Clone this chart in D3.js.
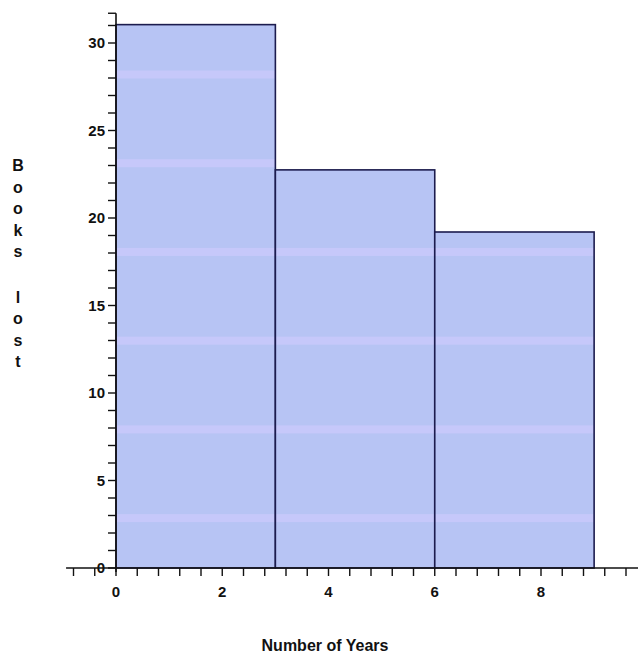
<!DOCTYPE html>
<html>
<head>
<meta charset="utf-8">
<script src="https://cdn.jsdelivr.net/npm/d3@7"></script>
<style>
  html, body { margin: 0; padding: 0; background: #ffffff; }
  svg { display: block; }
</style>
</head>
<body>
<svg id="chart" width="638" height="654"></svg>
<script>
// ---- data ----
const binStarts = [0, 3, 6];
const binEnds = [3, 6, 9];
const booksLost = [31.05, 22.75, 19.2];
const yTickLabels = [0, 5, 10, 15, 20, 25, 30];
const xTickLabels = [0, 2, 4, 6, 8];
const xTitle = "Number of Years";
const yTitleWords = ["Books", "lost"];

// ---- layout ----
const svg = d3.select("#chart");

const x = d3.scaleLinear().domain([0, 8]).range([116, 541]);
const y = d3.scaleLinear().domain([0, 30]).range([568, 43]);

const fontTick = "bold 15px 'Liberation Sans', Arial, sans-serif";

// pattern: light blue fill with faint lighter horizontal bands
const defs = svg.append("defs");
const bandStep = y(0) - y(5.07);
const pat = defs.append("pattern")
  .attr("id", "barfill")
  .attr("patternUnits", "userSpaceOnUse")
  .attr("x", 0).attr("y", y(28.2) - 4)
  .attr("width", 638).attr("height", bandStep);
pat.append("rect").attr("width", 638).attr("height", bandStep).attr("fill", "#b7c4f4");
pat.append("rect").attr("y", 0).attr("width", 638).attr("height", 8).attr("fill", "#c6c8fa");

const bars = binStarts.map((s, i) => ({ x0: s, x1: binEnds[i], v: booksLost[i] }));

svg.append("g").selectAll("rect")
  .data(bars)
  .join("rect")
  .attr("x", d => x(d.x0))
  .attr("y", d => y(d.v))
  .attr("width", d => x(d.x1) - x(d.x0))
  .attr("height", d => y(0) - y(d.v))
  .attr("fill", "url(#barfill)")
  .attr("stroke", "#1c1c4e")
  .attr("stroke-width", 1.6);

// ---- x axis ----
const xAxisDomain = [-0.94, 9.83];
const gx = svg.append("g");
gx.append("line")
  .attr("x1", x(xAxisDomain[0])).attr("x2", x(xAxisDomain[1]))
  .attr("y1", y(0)).attr("y2", y(0))
  .attr("stroke", "#111").attr("stroke-width", 1.6);
const xMinor = d3.range(-2, 25).map(k => k * 0.4).filter(v => v >= xAxisDomain[0] && v <= xAxisDomain[1]);
gx.selectAll("line.t").data(xMinor).join("line")
  .attr("class", "t")
  .attr("x1", d => x(d)).attr("x2", d => x(d))
  .attr("y1", y(0)).attr("y2", y(0) + 8)
  .attr("stroke", "#111").attr("stroke-width", 1.4);
gx.selectAll("text").data(xTickLabels).join("text")
  .attr("x", d => x(d)).attr("y", y(0) + 29)
  .attr("text-anchor", "middle")
  .style("font", fontTick).attr("fill", "#111")
  .text(d => d);

// ---- y axis ----
const yTop = 31.7;
const gy = svg.append("g");
gy.append("line")
  .attr("x1", x(0)).attr("x2", x(0))
  .attr("y1", y(0) + 4).attr("y2", y(yTop))
  .attr("stroke", "#111").attr("stroke-width", 1.6);
const yMinor = d3.range(0, 32).concat([yTop]);
gy.selectAll("line.t").data(yMinor).join("line")
  .attr("class", "t")
  .attr("x1", x(0) - 8).attr("x2", x(0))
  .attr("y1", d => y(d)).attr("y2", d => y(d))
  .attr("stroke", "#111").attr("stroke-width", 1.4);
gy.selectAll("text").data(yTickLabels).join("text")
  .attr("x", x(0) - 11).attr("y", d => y(d) + 5)
  .attr("text-anchor", "end")
  .style("font", fontTick).attr("fill", "#111")
  .text(d => d);

// ---- titles ----
svg.append("text")
  .attr("x", 325).attr("y", 651)
  .attr("text-anchor", "middle")
  .style("font", "bold 16px 'Liberation Sans', Arial, sans-serif")
  .attr("fill", "#111")
  .text(xTitle);

const letterYs = [];
let cy = 171;
yTitleWords.forEach((w, wi) => {
  if (wi > 0) cy += 24;
  w.split("").forEach(ch => { letterYs.push({ ch, y: cy }); cy += 21.5; });
});
svg.append("g").selectAll("text").data(letterYs).join("text")
  .attr("x", 18).attr("y", d => d.y)
  .attr("text-anchor", "middle")
  .style("font", "bold 16px 'Liberation Sans', Arial, sans-serif")
  .attr("fill", "#111")
  .text(d => d.ch);
</script>
</body>
</html>
